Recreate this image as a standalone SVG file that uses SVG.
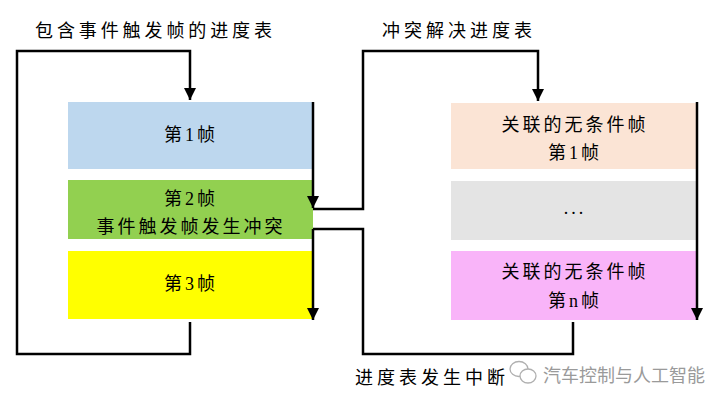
<svg xmlns="http://www.w3.org/2000/svg" width="728" height="405" viewBox="0 0 728 405">
<style>
.t{font-family:"Liberation Serif","Noto Sans CJK SC",serif;font-size:18px;fill:#000;}
.c{text-anchor:middle;letter-spacing:3px;}
.ln{fill:none;stroke:#000;stroke-width:2.5;}
.wm{font-family:"Noto Sans CJK SC",sans-serif;font-size:18px;fill:#9a9a9a;}
</style>
<defs>
<marker id="arr" markerUnits="userSpaceOnUse" markerWidth="14" markerHeight="14" viewBox="0 0 14 14" refX="7" refY="13" orient="auto-start-reverse">
<path d="M1,1 L13,1 L7,13 Z" fill="#000" transform="rotate(-90 7 7)"/>
</marker>
<marker id="ad" markerUnits="userSpaceOnUse" markerWidth="14" markerHeight="14" viewBox="0 0 14 14" refX="7" refY="13" orient="0">
<path d="M1,1 L13,1 L7,13 Z" fill="#000"/>
</marker>
</defs>
<rect width="728" height="405" fill="#fff"/>
<text class="t" x="35" y="37" textLength="237" lengthAdjust="spacing">包含事件触发帧的进度表</text>
<text class="t" x="382" y="37" textLength="150" lengthAdjust="spacing">冲突解决进度表</text>
<text class="t" x="355" y="384" textLength="150" lengthAdjust="spacing">进度表发生中断</text>
<g id="f1"><rect x="68" y="102" width="245" height="67" fill="#BDD7EE"/><text class="t c" x="191" y="141">第1帧</text></g>
<g id="f2"><rect x="68" y="180" width="245" height="59" fill="#92D050"/><text class="t c" x="191" y="205">第2帧</text><text class="t c" x="191" y="233">事件触发帧发生冲突</text></g>
<g id="f3"><rect x="68" y="251" width="245" height="68" fill="#FFFF00"/><text class="t c" x="191" y="290">第3帧</text></g>
<g id="r1"><rect x="451" y="103" width="246" height="66" fill="#FBE4D5"/><text class="t c" x="575" y="131">关联的无条件帧</text><text class="t c" x="575" y="159">第1帧</text></g>
<g id="r2"><rect x="451" y="181" width="246" height="59" fill="#E4E4E4"/><text class="t c" x="575" y="214">...</text></g>
<g id="r3"><rect x="451" y="251" width="246" height="69" fill="#F9B4F9"/><text class="t c" x="575" y="278">关联的无条件帧</text><text class="t c" x="575" y="307">第n帧</text></g>
<g id="connectors">
<path class="ln" d="M190,322 V354 H17 V51 H190 V100" marker-end="url(#ad)"/>
<path class="ln" d="M313,102 V208" marker-end="url(#ad)"/>
<path class="ln" d="M313,209 H363 V51 H538 V101" marker-end="url(#ad)"/>
<path class="ln" d="M573,322 V354 H363 V229 H313"/>
<path class="ln" d="M313,229 V320" marker-end="url(#ad)"/>
<path class="ln" d="M697,102 V320" marker-end="url(#ad)"/>
</g>
<g id="watermark">
<ellipse cx="519" cy="369" rx="9" ry="7.5" fill="none" stroke="#b0b0b0" stroke-width="1.3"/>
<ellipse cx="528" cy="376" rx="8" ry="7" fill="#fff" stroke="#b0b0b0" stroke-width="1.3"/>
<text class="wm" x="543" y="382" textLength="162" lengthAdjust="spacing">汽车控制与人工智能</text>
</g>
</svg>
